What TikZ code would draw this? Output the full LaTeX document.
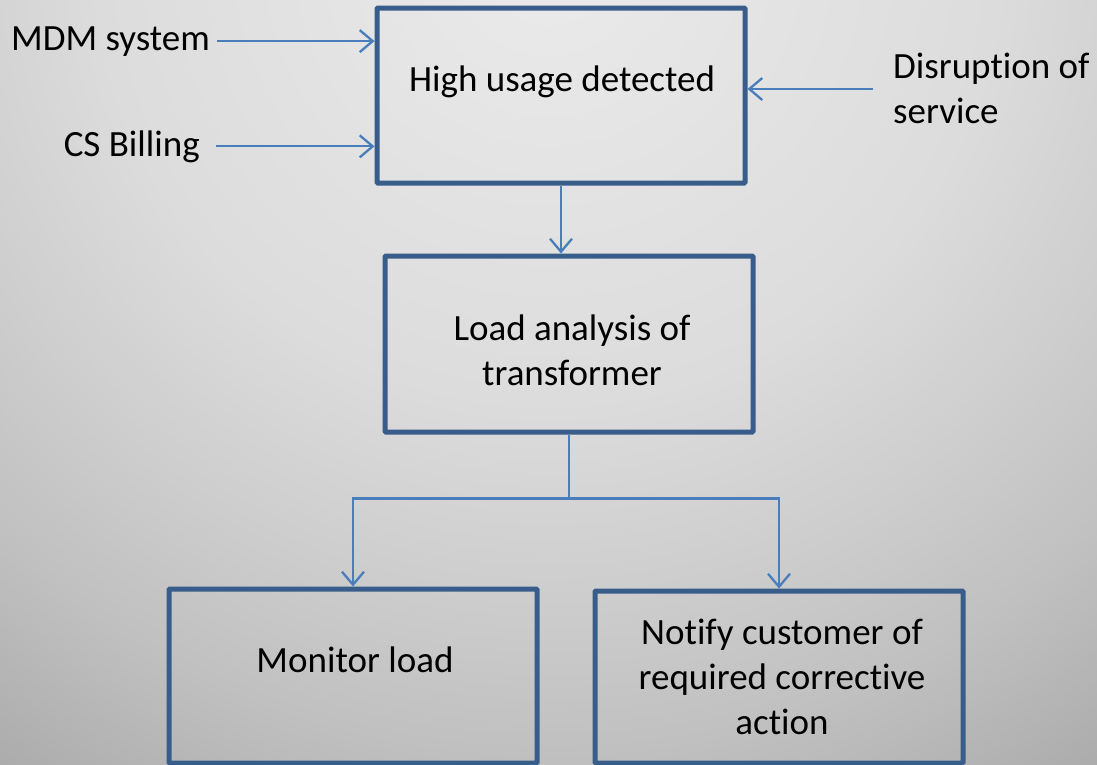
\documentclass[tikz,border=0pt]{standalone}
\usepackage{fontspec}
\setmainfont{Carlito}[Ligatures=NoCommon]
\usetikzlibrary{arrows.meta}
\definecolor{boxblue}{HTML}{385D8A}
\definecolor{linkblue}{HTML}{4A7EBB}
\definecolor{bgA}{HTML}{EBEBEB}
\definecolor{bgB}{HTML}{DCDCDC}
\definecolor{bgC}{HTML}{CDCDCD}
\definecolor{bgD}{HTML}{C0C0C0}
\definecolor{bgE}{HTML}{AAAAAA}
\pgfdeclareradialshading{bgshade}{\pgfpoint{0bp}{0bp}}{%
  color(0bp)=(bgA); color(9.4bp)=(bgB); color(13.5bp)=(bgC);
  color(16.7bp)=(bgD); color(20.8bp)=(bgE); color(50bp)=(bgE)}
\begin{document}
\begin{tikzpicture}[x=1pt,y=-1pt,
  stepbox/.style={draw=boxblue, line width=5pt, rounded corners=1pt, inner sep=0pt},
  txt/.style={font=\fontsize{37}{45}\selectfont, inner sep=0pt, text=black},
  link/.style={draw=linkblue, line width=2.3pt, -{Straight Barb[length=13pt,width=22pt]}},
  plain/.style={draw=linkblue, line width=2.3pt}]
\useasboundingbox (0,0) rectangle (1097,764);
\begin{scope}
  \clip (0,0) rectangle (1097,764);
  \shade[shading=bgshade] (548,-50) circle (1200);
\end{scope}
% boxes
\node[stepbox, minimum width=368pt, minimum height=175pt] (b1) at (561,95.5) {};
\node[stepbox, minimum width=368pt, minimum height=176pt] (b2) at (569,344) {};
\node[stepbox, minimum width=368pt, minimum height=174pt] (b3) at (353,676) {};
\node[stepbox, minimum width=368pt, minimum height=172pt] (b4) at (779,677) {};
% texts
\node[txt, anchor=base] (t1) at (562,91) {High usage detected};
\node[txt, anchor=base, align=center] (t2) at (572,385) {Load analysis of\\transformer};
\node[txt, anchor=base] (t3) at (355,672) {Monitor load};
\node[txt, anchor=base, align=center] (t4) at (782,734) {Notify customer of\\required corrective\\action};
\node[txt, anchor=base east] (mdm) at (210,50) {MDM system};
\node[txt, anchor=base east] (csb) at (200,156) {CS Billing};
\node[txt, anchor=base west, align=left] (dis) at (893,123) {Disruption of\\service};
% connectors
\draw[link] ([xshift=7pt]mdm.east) -- (mdm.east -| b1.west);
\draw[link] ([xshift=16pt]csb.east) -- (csb.east -| b1.west);
\coordinate (disstart) at (873,89);
\draw[link] (disstart) -- (disstart -| b1.east);
\draw[link] (b1.south) -- (b1.south |- b2.north);
\coordinate (junc) at ([yshift=-64pt]b2.south);
\draw[plain] (b2.south) -- (junc);
\draw[link] (junc) -| (b3.north);
\draw[link] (junc) -| (b4.north);
\end{tikzpicture}
\end{document}
